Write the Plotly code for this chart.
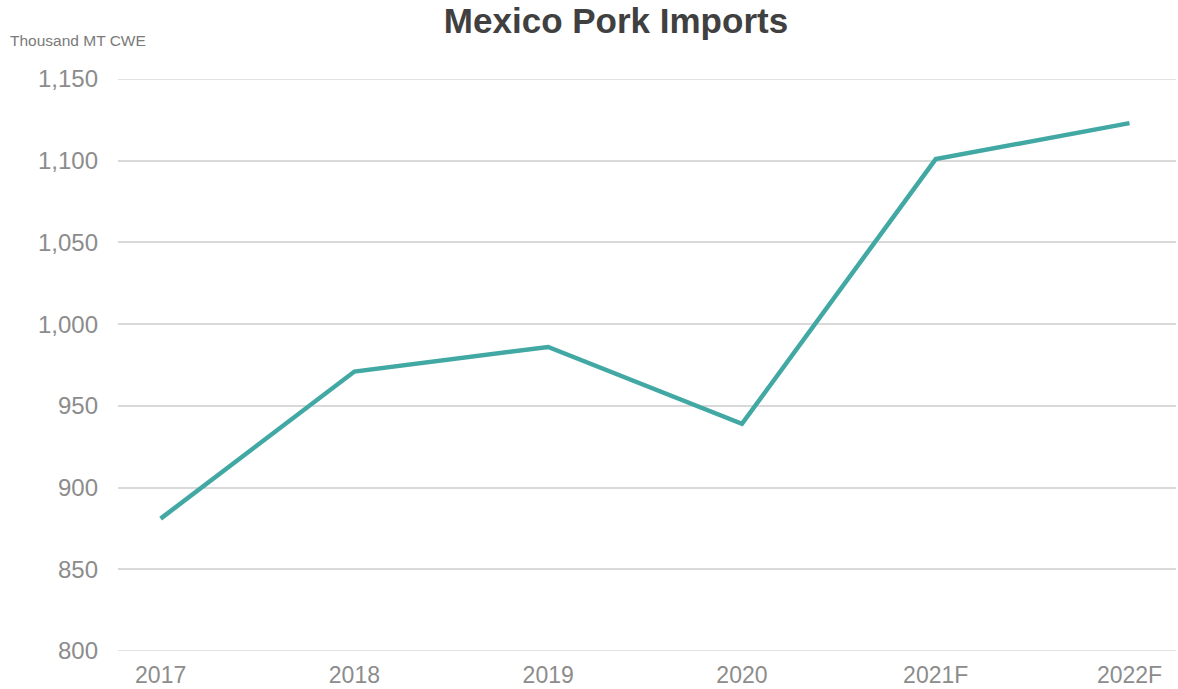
import plotly.graph_objects as go

years = ["2017", "2018", "2019", "2020", "2021F", "2022F"]
imports = [881, 971, 986, 939, 1101, 1123]
y_ticks = [800, 850, 900, 950, 1000, 1050, 1100, 1150]
y_tick_labels = ["800", "850", "900", "950", "1,000", "1,050", "1,100", "1,150"]

fig = go.Figure()
fig.add_trace(go.Scatter(
    x=years, y=imports, mode="lines",
    line=dict(color="#41a8a3", width=4.5),
    hoverinfo="x+y",
))

# edge gridlines (plotly omits grid lines at the exact range bounds)
for yv in (y_ticks[0], y_ticks[-1]):
    fig.add_hline(y=yv, line=dict(color="#d9d9d9", width=1.5), layer="below")

fig.update_layout(
    width=1178, height=689,
    margin=dict(l=118, r=2, t=79, b=38),
    paper_bgcolor="white", plot_bgcolor="white",
    showlegend=False,
    font=dict(family="Liberation Sans, Arial, sans-serif", color="#8c8c8c"),
    title=dict(
        text="<b>Mexico Pork Imports</b>",
        x=616 / 1178, xanchor="center", xref="container",
        y=1 - 21 / 689, yanchor="middle", yref="container",
        font=dict(size=35, color="#404040", family="Liberation Sans, Arial, sans-serif"),
    ),
    xaxis=dict(
        type="category", range=[-0.22, 5.24], automargin=False,
        showgrid=False, zeroline=False, showline=False, ticks="",
        tickfont=dict(size=23, color="#8c8c8c"),
        ticklabelstandoff=8,
    ),
    yaxis=dict(
        range=[800, 1150], tickvals=y_ticks, ticktext=y_tick_labels,
        automargin=False,
        showgrid=True, gridcolor="#d9d9d9", gridwidth=1.5,
        zeroline=False, showline=False, ticks="",
        tickfont=dict(size=24, color="#8c8c8c"),
        ticklabelstandoff=19,
    ),
    annotations=[dict(
        text="Thousand MT CWE", xref="paper", yref="paper",
        x=-110 / 1058, y=1 + (79 - 40) / 572, xanchor="left", yanchor="middle",
        showarrow=False, font=dict(size=15.5, color="#7a7a7a"),
    )],
)

fig.write_html("out.html", config={"displayModeBar": False},
               post_script="document.body.style.margin='0';")
